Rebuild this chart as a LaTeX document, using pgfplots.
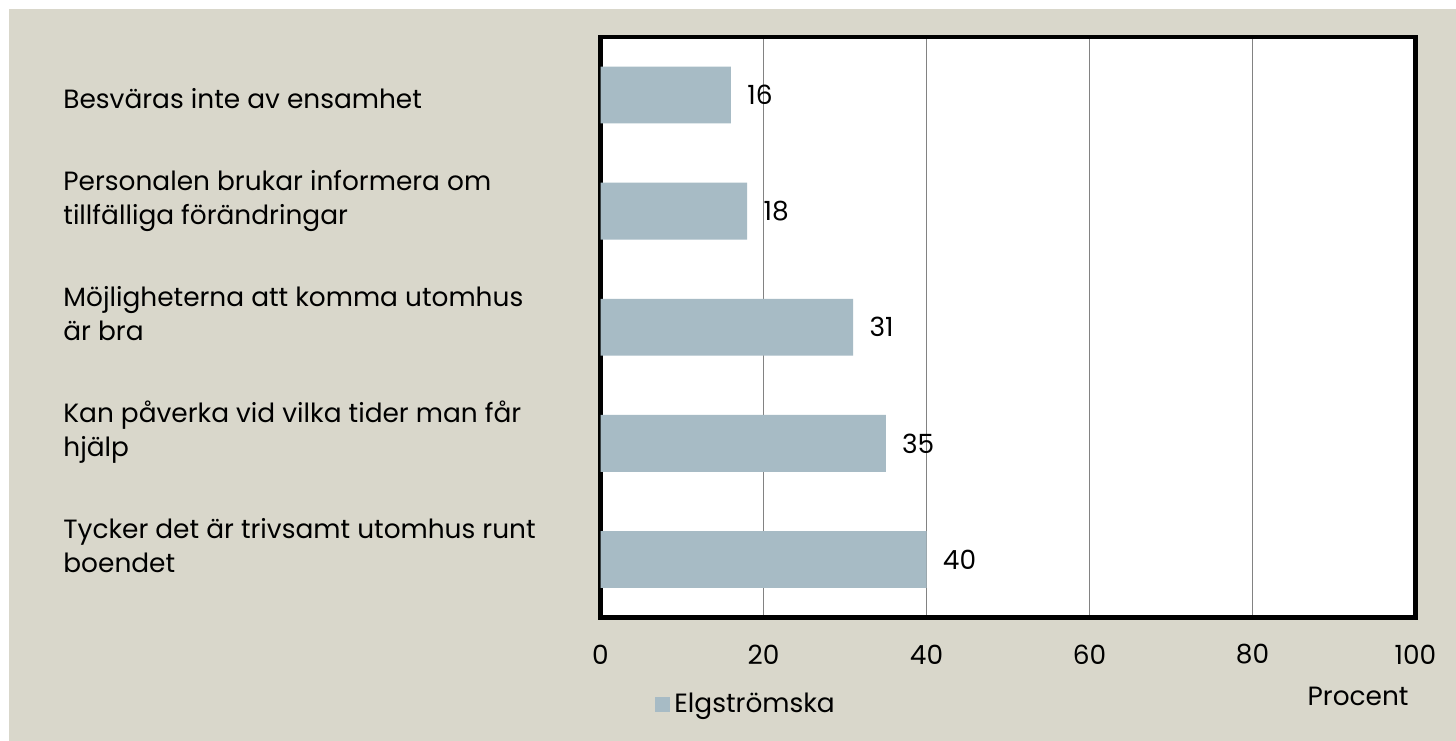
\documentclass[border=0pt]{standalone}
\usepackage{fontspec}
\setmainfont{Poppins}
\usepackage{pgfplots}
\pgfplotsset{compat=1.18}
\definecolor{bg}{RGB}{217,215,203}
\definecolor{barc}{RGB}{167,187,197}
\definecolor{gridc}{RGB}{130,130,130}
\begin{document}
\fontsize{13.2bp}{17bp}\selectfont
\begin{tikzpicture}
\fill[white] (0,0) rectangle (728bp,370.5bp);
\fill[bg] (4.5bp,0) rectangle (728bp,366bp);
\begin{axis}[
  at={(300.25bp,61.75bp)}, anchor=south west,
  scale only axis, width=407.5bp, height=290.25bp,
  xbar, bar width=0.49,
  xmin=0, xmax=100, ymin=-0.5, ymax=4.5,
  xtick={0,20,40,60,80,100}, ytick={0,1,2,3,4},
  yticklabels={{Tycker det är trivsamt utomhus runt\\boendet},{Kan påverka vid vilka tider man får\\hjälp},{Möjligheterna att komma utomhus\\är bra},{Personalen brukar informera om\\tillfälliga förändringar},{Besväras inte av ensamhet}},
  major tick length=0pt,
  xmajorgrids, major grid style={gridc, line width=0.6bp},
  axis line style={line width=2.25bp, black},
  axis background/.style={fill=white},
  /pgf/number format/assume math mode=true,
  xticklabel style={anchor=center, yshift=-18.5bp, inner sep=0pt},
  yticklabel style={anchor=base west, align=left, inner sep=0pt, xshift=-268.75bp, yshift=-6.5bp},
  nodes near coords, nodes near coords style={anchor=west, inner sep=0pt, xshift=8bp, black},
  xlabel={Procent}, xlabel style={at={(axis description cs:0.992,-0.1352)}, anchor=east, inner sep=0pt},
  legend style={draw=none, fill=none, at={(axis description cs:0.0669,-0.1507)}, anchor=west, inner sep=0pt, legend cell align=left},
  legend image code/.code={\fill[barc] (0bp,-3.75bp) rectangle (7.5bp,3.75bp);},
]
\addplot[fill=barc, draw=none] coordinates {(40,0) (35,1) (31,2) (18,3) (16,4)};
\addlegendentry{Elgströmska}
\end{axis}
\pgfresetboundingbox
\useasboundingbox (0,0) rectangle (728bp,370.5bp);
\end{tikzpicture}
\end{document}
